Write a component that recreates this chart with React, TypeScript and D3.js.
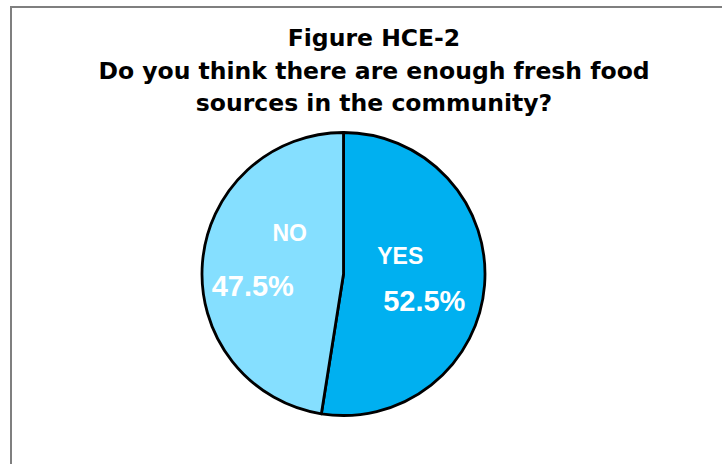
import React, { useRef, useEffect } from 'react';
import * as d3 from 'd3';

const categories = ['YES', 'NO'];
const shares = [52.5, 47.5];
const sliceColors = ['#00B0F0', '#85DFFF'];
const titleLines = [
  'Figure HCE-2',
  'Do you think there are enough fresh food',
  'sources in the community?',
];

const W = 722;
const H = 464;
const CX = 343.5;
const CY = 274;
const R = 141.5;

// hand-placed label nudges, relative to the slice centroid
const nameOffset: Record<string, [number, number]> = { YES: [-28, -17], NO: [31, -26] };
const valueOffset: Record<string, [number, number]> = { YES: [-4, 30], NO: [-6, 29] };

const App: React.FC = () => {
  const svgRef = useRef<SVGSVGElement>(null);

  useEffect(() => {
    if (!svgRef.current) return;
    const svg = d3.select(svgRef.current);
    svg.selectAll('*').remove();

    // chart frame (runs off the right and bottom edges)
    svg.append('rect')
      .attr('x', 11)
      .attr('y', 7)
      .attr('width', W + 20)
      .attr('height', H + 20)
      .attr('fill', '#fff')
      .attr('stroke', '#7f7f7f')
      .attr('stroke-width', 2);

    // title
    const title = svg.append('text')
      .attr('x', 374)
      .attr('text-anchor', 'middle')
      .attr('font-family', '"DejaVu Sans", sans-serif')
      .attr('font-weight', 'bold')
      .attr('font-size', 23.5)
      .attr('fill', '#000');
    titleLines.forEach((line, i) => {
      title.append('tspan')
        .attr('x', 374)
        .attr('y', 46 + i * 32.5)
        .text(line);
    });

    const data = categories.map((c, i) => ({ name: c, value: shares[i], color: sliceColors[i] }));
    const pie = d3.pie<typeof data[number]>().sort(null).value((d) => d.value);
    const arcs = pie(data);
    const arc = d3.arc<d3.PieArcDatum<typeof data[number]>>().innerRadius(0).outerRadius(R);
    const labelArc = d3.arc<d3.PieArcDatum<typeof data[number]>>().innerRadius(85).outerRadius(85);

    const g = svg.append('g').attr('transform', `translate(${CX},${CY})`);

    g.selectAll('path.slice')
      .data(arcs)
      .join('path')
      .attr('class', 'slice')
      .attr('d', arc)
      .attr('fill', (d) => d.data.color)
      .attr('stroke', '#000')
      .attr('stroke-width', 2.8)
      .attr('stroke-linejoin', 'round');

    const labels = g.selectAll('g.label')
      .data(arcs)
      .join('g')
      .attr('class', 'label')
      .attr('transform', (d) => `translate(${labelArc.centroid(d)})`);

    labels.append('text')
      .attr('x', (d) => nameOffset[d.data.name][0])
      .attr('y', (d) => nameOffset[d.data.name][1])
      .attr('text-anchor', 'middle')
      .attr('font-family', '"Liberation Sans", Arial, sans-serif')
      .attr('font-weight', 'bold')
      .attr('font-size', 23)
      .attr('fill', '#fff')
      .text((d) => d.data.name);

    labels.append('text')
      .attr('x', (d) => valueOffset[d.data.name][0])
      .attr('y', (d) => valueOffset[d.data.name][1])
      .attr('text-anchor', 'middle')
      .attr('font-family', '"Liberation Sans", Arial, sans-serif')
      .attr('font-weight', 'bold')
      .attr('font-size', 29)
      .attr('fill', '#fff')
      .text((d) => `${d3.format('.1f')(d.data.value)}%`);
  }, []);

  return (
    <svg
      ref={svgRef}
      width={W}
      height={H}
      style={{ position: 'absolute', left: 0, top: 0, background: '#fff' }}
    />
  );
};

export default App;
